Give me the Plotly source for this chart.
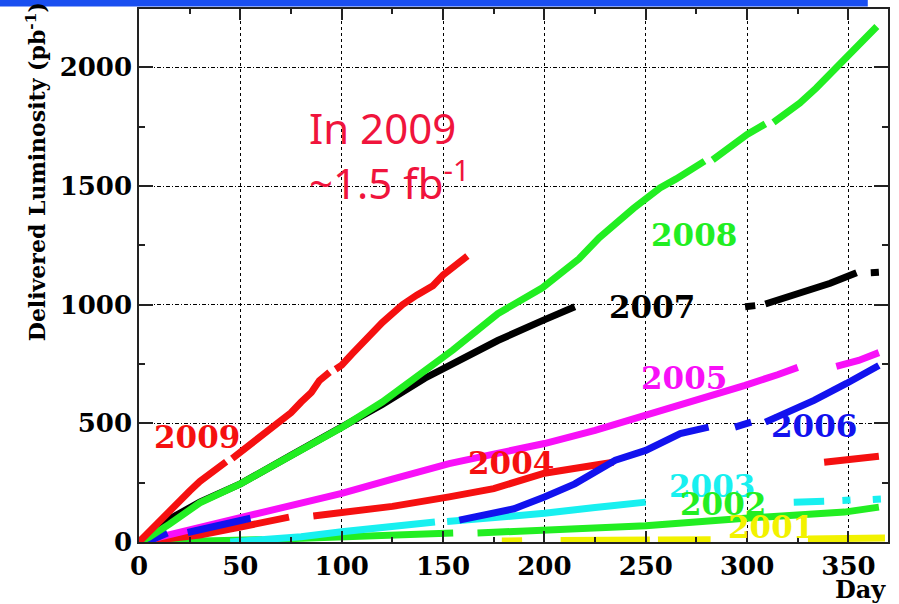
import plotly.graph_objects as go

# Cumulative delivered luminosity (pb^-1) versus day of year, one run per year.
# None marks a break in data taking.
days_2009 = [0, 5, 10, 15, 20, 25, 30, 35, 40, 43, None, 46, 50, 55, 60, 65, 70, 75, 80, 85, 89, 94,
             None, 97, 100, 105, 110, 115, 120, 125, 130, 137, 145, 150, 155, 162]
lumi_2009 = [0, 45, 90, 130, 175, 215, 255, 290, 320, 338, None, 352, 378, 410, 440, 475, 510, 545, 590,
             630, 680, 715, None, 728, 745, 792, 840, 885, 925, 962, 1000, 1040, 1080, 1125, 1160, 1205]

days_2008 = [0, 5, 15, 30, 50, 75, 100, 120, 137, 155, 177, 199, 217, 227, 244, 257, 265, 279, None,
             283, 300, 309, None, 313, 326, 334, 343, 353, 364]
lumi_2008 = [0, 20, 75, 165, 245, 365, 483, 590, 693, 810, 962, 1071, 1193, 1282, 1406, 1492, 1530,
             1605, None, 1610, 1717, 1762, None, 1768, 1850, 1912, 1992, 2080, 2172]

days_2007 = [0, 5, 14, 30, 50, 75, 100, 120, 141, 160, 177, 199, 215, None, 299, 304, None, 309, 325,
             341, 354, None, 361, 365]
lumi_2007 = [0, 35, 92, 168, 245, 365, 483, 580, 690, 775, 849, 933, 991, None, 991, 996, None, 1003,
             1048, 1090, 1135, None, 1135, 1137]

days_2006 = [0, 7, 14, None, 24, 35, 45, 55, None, 158, 170, 185, 200, 215, 235, 250, 267, 281, None,
             294, 302, None, 309, 320, 333, 349, 365]
lumi_2006 = [0, 12, 38, None, 40, 62, 82, 100, None, 92, 115, 140, 190, 245, 345, 386, 457, 484, None,
             484, 505, None, 505, 545, 597, 668, 744]

days_2005 = [0, 10, 25, 50, 75, 100, 125, 153, 175, 200, 225, 250, 275, 299, 315, 325, None, 344,
             355, 365]
lumi_2005 = [0, 20, 50, 100, 150, 205, 265, 330, 370, 415, 470, 533, 600, 660, 705, 736, None, 740,
             765, 798]

days_2004 = [0, 15, 30, 50, 74, None, 86, 100, 125, 153, 175, 200, 215, 234, None, 338, 365]
lumi_2004 = [0, 12, 29, 63, 105, None, 110, 123, 150, 190, 225, 290, 312, 336, None, 336, 361]

days_2003 = [45, 60, 80, 100, 125, 146, None, 152, 175, 200, 225, 250, None, 323, 338, None, 347, 351,
             None, 362, 366]
lumi_2003 = [0, 10, 22, 43, 63, 84, None, 86, 100, 121, 145, 168, None, 168, 172, None, 175, 177,
             None, 179, 181]

days_2002 = [10, 30, 50, 61, None, 68, 100, 130, 155, None, 167, 200, 250, 299, 330, 348, 365]
lumi_2002 = [0, 4, 8, 10, None, 12, 21, 30, 38, None, 38, 50, 68, 100, 115, 126, 147]

days_2001 = [179, 189, None, 208, 230, 252, None, 256, 282, None, 330, 345, 368]
lumi_2001 = [4, 5, None, 6, 7, 8, None, 8, 10, None, 13, 15, 17]

years = ["2009", "2008", "2007", "2006", "2005", "2004", "2003", "2002", "2001"]
x_ticks = [0, 50, 100, 150, 200, 250, 300, 350]
y_ticks = [0, 500, 1000, 1500, 2000]

series = {
    "2001": (days_2001, lumi_2001),
    "2002": (days_2002, lumi_2002),
    "2003": (days_2003, lumi_2003),
    "2004": (days_2004, lumi_2004),
    "2005": (days_2005, lumi_2005),
    "2006": (days_2006, lumi_2006),
    "2007": (days_2007, lumi_2007),
    "2008": (days_2008, lumi_2008),
    "2009": (days_2009, lumi_2009),
}

colors = {
    "2009": "#f51010", "2008": "#22ee22", "2007": "#000000", "2006": "#1212ee",
    "2005": "#f810f8", "2004": "#f51010", "2003": "#18f0f0", "2002": "#22ee22",
    "2001": "#f2f200",
}

# where each year's label sits (day, luminosity)
label_at = {
    "2009": (28.6, 441), "2008": (273.8, 1293), "2007": (253, 991), "2005": (269, 693),
    "2006": (333, 487), "2004": (183.5, 332), "2003": (282.7, 235), "2002": (288, 160),
    "2001": (312, 63),
}

fig = go.Figure()
draw_order = ["2001", "2002", "2003", "2004", "2005", "2006", "2007", "2008", "2009"]
for yr in draw_order:
    xs, ys = series[yr]
    fig.add_trace(go.Scatter(
        x=xs, y=ys, mode="lines", connectgaps=False,
        line=dict(color=colors[yr], width=7),
        hoverinfo="skip", showlegend=False,
    ))

serif = "DejaVu Serif"
for yr in years:
    lx, ly = label_at[yr]
    fig.add_annotation(
        x=lx, y=ly, xref="x", yref="y", text=yr, showarrow=False,
        font=dict(family=serif, size=31, color=colors[yr], weight="bold"),
        xanchor="center", yanchor="middle",
    )

fig.add_annotation(
    x=0.335, y=0.835, xref="paper", yref="paper",
    text="In 2009<br>~1.5 fb<sup>-1</sup>", showarrow=False, align="left",
    font=dict(family="Noto Sans", size=42, color="#f0143c"),
    xanchor="center", yanchor="top",
)

fig.add_annotation(
    x=-0.138, y=0.695, xref="paper", yref="paper",
    text="Delivered Luminosity (pb<sup>-1</sup>)", showarrow=False, textangle=-90,
    font=dict(family=serif, size=22, color="#000000", weight="bold"),
    xanchor="center", yanchor="middle",
)

fig.add_annotation(
    x=1.0, y=-0.058, xref="paper", yref="paper", text="Day", showarrow=False,
    font=dict(family=serif, size=24, color="#000000", weight="bold"),
    xanchor="right", yanchor="top",
)

# banner stripe across the very top
fig.add_shape(type="rect", xref="paper", yref="paper",
              x0=-0.19, x1=0.973, y0=1.0045, y1=1.025,
              fillcolor="#1a4ff0", line=dict(width=0), layer="above")

axis_common = dict(
    showline=True, linecolor="#222222", linewidth=1.5, mirror="allticks",
    ticks="inside", tickcolor="#222222", tickwidth=1.5,
    showgrid=True, gridcolor="#000000", gridwidth=1,
    zeroline=False,
    tickfont=dict(family=serif, size=26, color="#000000", weight="bold"),
)

fig.update_xaxes(
    range=[0, 369.5], tickvals=x_ticks, ticktext=[str(v) for v in x_ticks],
    ticklen=11, griddash="dot",
    minor=dict(ticks="inside", dtick=25, tick0=0, ticklen=5, tickcolor="#222222", showgrid=False),
    **axis_common,
)
fig.update_yaxes(
    range=[0, 2246], tickvals=y_ticks, ticktext=[str(v) for v in y_ticks],
    ticklen=14, griddash="4px,2px,1px,2px",
    minor=dict(ticks="inside", dtick=250, tick0=0, ticklen=6, tickcolor="#222222", showgrid=False),
    **axis_common,
)

fig.update_layout(
    width=899, height=604,
    margin=dict(l=139, r=11, t=7, b=62),
    paper_bgcolor="#ffffff", plot_bgcolor="#ffffff",
    showlegend=False,
)

fig.write_html("out.html")
